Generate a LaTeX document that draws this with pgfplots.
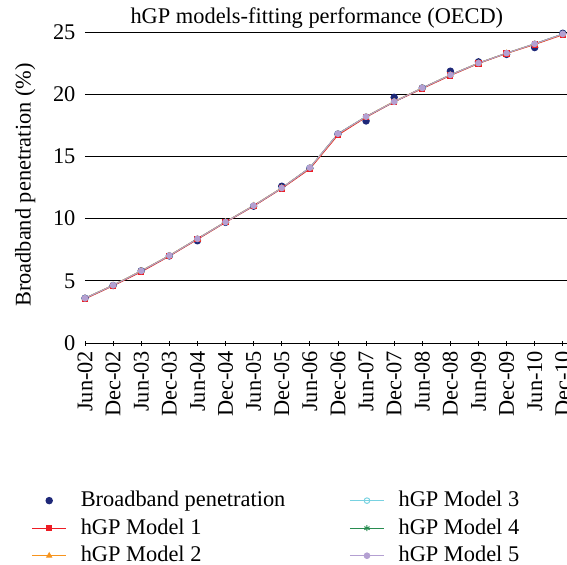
\documentclass[border=0pt]{standalone}
\usepackage{fontspec}
\setmainfont{Liberation Serif}
\usepackage{pgfplots}
\pgfplotsset{compat=1.18}
\definecolor{bbnavy}{RGB}{30,40,120}
\definecolor{mone}{RGB}{237,28,36}
\definecolor{mtwo}{RGB}{247,148,29}
\definecolor{mthree}{RGB}{120,210,225}
\definecolor{mfour}{RGB}{40,140,80}
\definecolor{mfive}{RGB}{180,160,210}
\begin{document}
\begin{tikzpicture}
\useasboundingbox (-42.5pt,-110.5pt) rectangle (241pt,171.5pt);
\begin{axis}[
  at={(0,0)}, anchor=south west,
  width=241pt, height=155.5pt, scale only axis,
  xmin=0, xmax=17.15, ymin=0, ymax=25,
  axis line style={draw=none},
  ytick={0,5,10,15,20,25},
  ymajorgrids, grid style={black, line width=0.5pt},
  ytick style={draw=none},
  xtick={0,...,17},
  xticklabels={Jun-02,Dec-02,Jun-03,Dec-03,Jun-04,Dec-04,Jun-05,Dec-05,Jun-06,Dec-06,Jun-07,Dec-07,Jun-08,Dec-08,Jun-09,Dec-09,Jun-10,Dec-10},
  xtick pos=bottom, ytick pos=left,
  xtick style={black, line width=0.4pt},
  major tick length=2.5pt, tick align=center,
  xticklabel style={rotate=90, anchor=east, inner sep=2.5pt},
  /pgf/number format/assume math mode=true,
  tick label style={font=\fontsize{11.2}{13}\selectfont},
  title={hGP models-fitting performance (OECD)},
  title style={at={(axis description cs:0.481,1)}, anchor=south, yshift=-7.5pt, font=\fontsize{11.2}{13}\selectfont},
  ylabel={Broadband penetration (\%)},
  ylabel style={at={(axis description cs:-0.124,0.508)}, anchor=center, rotate=0, font=\fontsize{11.2}{13}\selectfont},
  legend columns=2,
  legend cell align=left,
  legend style={at={(axis description cs:-0.124,-0.45)}, anchor=north west, draw=none, fill=none,
    font=\fontsize{11.2}{13}\selectfont, row sep=0.5pt,
    /tikz/every odd column/.append style={column sep=5pt},
    /tikz/every even column/.append style={column sep=30pt}},
  every axis plot/.append style={line width=0.5pt},
]
\addplot[only marks, mark=*, mark size=1.6pt, color=bbnavy] coordinates {
(0,3.6) (1,4.62) (2,5.8) (3,7.0) (4,8.22) (5,9.7) (6,11.0) (7,12.6) (8,14.05) (9,16.8)
(10,17.85) (11,19.75) (12,20.5) (13,21.85) (14,22.6) (15,23.2) (16,23.75) (17,24.9)};
\addlegendentry{Broadband penetration}
\addplot[color=mthree, mark=o, mark size=1.4pt] coordinates {
(0,3.6) (1,4.64) (2,5.79) (3,7.02) (4,8.38) (5,9.73) (6,11.04) (7,12.46) (8,14.09) (9,16.82)
(10,18.2) (11,19.4) (12,20.5) (13,21.55) (14,22.5) (15,23.3) (16,24.05) (17,24.84)};
\addlegendentry{hGP Model 3}
\addplot[color=mone, mark=square*, mark size=1.3pt] coordinates {
(0,3.55) (1,4.6) (2,5.72) (3,6.98) (4,8.33) (5,9.7) (6,11.0) (7,12.42) (8,14.0) (9,16.72)
(10,18.15) (11,19.38) (12,20.45) (13,21.5) (14,22.47) (15,23.28) (16,24.0) (17,24.78)};
\addlegendentry{hGP Model 1}
\addplot[color=mfour, mark=asterisk, mark size=1.5pt] coordinates {
(0,3.6) (1,4.64) (2,5.79) (3,7.02) (4,8.38) (5,9.73) (6,11.04) (7,12.46) (8,14.09) (9,16.82)
(10,18.2) (11,19.4) (12,20.5) (13,21.55) (14,22.5) (15,23.3) (16,24.05) (17,24.84)};
\addlegendentry{hGP Model 4}
\addplot[color=mtwo, mark=triangle*, mark size=1.4pt] coordinates {
(0,3.6) (1,4.65) (2,5.8) (3,7.03) (4,8.38) (5,9.74) (6,11.05) (7,12.47) (8,14.08) (9,16.8)
(10,18.2) (11,19.42) (12,20.5) (13,21.55) (14,22.5) (15,23.3) (16,24.04) (17,24.82)};
\addlegendentry{hGP Model 2}
\addplot[color=mfive, mark=*, mark size=1.4pt] coordinates {
(0,3.6) (1,4.64) (2,5.79) (3,7.02) (4,8.38) (5,9.73) (6,11.04) (7,12.46) (8,14.09) (9,16.82)
(10,18.2) (11,19.4) (12,20.5) (13,21.55) (14,22.5) (15,23.3) (16,24.05) (17,24.84)};
\addlegendentry{hGP Model 5}
\end{axis}
\end{tikzpicture}
\end{document}
